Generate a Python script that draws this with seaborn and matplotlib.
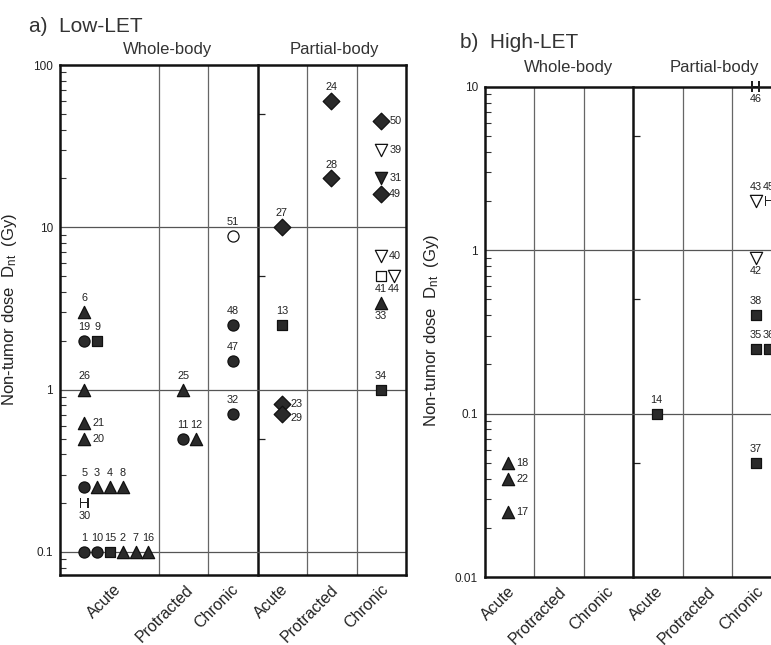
import pandas as pd
import matplotlib.pyplot as plt
import seaborn as sns
from matplotlib.ticker import LogLocator, NullFormatter
from matplotlib.transforms import blended_transform_factory

sns.set_theme(style='white')
plt.rcParams['font.family'] = ['Liberation Sans', 'DejaVu Sans']
plt.rcParams['mathtext.fontset'] = 'custom'
plt.rcParams['mathtext.rm'] = 'Liberation Sans'
plt.rcParams['mathtext.it'] = 'Liberation Sans:italic'

regimes = ['Acute', 'Protracted', 'Chronic', 'Acute', 'Protracted', 'Chronic']

# a) low-LET : study id, regime column (0-2 whole body, 3-5 partial body), slot, dose (Gy), symbol, label side
a_id = [1, 10, 15, 2, 7, 16, 30, 5, 3, 4, 8, 20, 21, 26, 19, 9, 6,
        25, 11, 12,
        51, 48, 47, 32,
        27, 13, 23, 29,
        24, 28,
        50, 39, 31, 49, 40, 41, 44, 33, 34]
a_col = [0] * 17 + [1] * 3 + [2] * 4 + [3] * 4 + [4] * 2 + [5] * 9
a_slot = [0, 1, 2, 3, 4, 5, 0, 0, 1, 2, 3, 0, 0, 0, 0, 1, 0,
          0, 0, 1,
          0, 0, 0, 0,
          0, 0, 0, 0,
          0, 0,
          0, 0, 0, 0, 0, 0, 1, 0, 0]
a_dose = [0.1, 0.1, 0.1, 0.1, 0.1, 0.1, 0.2, 0.25, 0.25, 0.25, 0.25, 0.5, 0.62, 1.0, 2.0, 2.0, 3.0,
          1.0, 0.5, 0.5,
          8.8, 2.5, 1.5, 0.71,
          10, 2.5, 0.81, 0.71,
          60, 20,
          45, 30, 20, 16, 6.7, 5, 5, 3.4, 1.0]
a_shape = ['o', 'o', 's', '^', '^', '^', 'H', 'o', '^', '^', '^', '^', '^', '^', 'o', 's', '^',
           '^', 'o', '^',
           'o_open', 'o', 'o', 'o',
           'D', 's', 'D', 'D',
           'D', 'D',
           'D', 'v_open', 'v', 'D', 'v_open', 's_open', 'v_open', '^', 's']
a_lab = (['t'] * 6 + ['b'] + ['t'] * 4 + ['r', 'r'] + ['t'] * 4
         + ['t'] * 3 + ['t'] * 4 + ['t', 't', 'r', 'r2'] + ['t', 't']
         + ['r'] * 5 + ['b', 'b', 'b', 't'])

# b) high-LET
b_id = [18, 22, 17, 14, 37, 35, 36, 38, 42, 43, 45, 46]
b_col = [0, 0, 0, 3, 5, 5, 5, 5, 5, 5, 5, 5]
b_slot = [0, 0, 0, 0, 0, 0, 1, 0, 0, 0, 1, 0]
b_dose = [0.05, 0.04, 0.025, 0.1, 0.05, 0.25, 0.25, 0.4, 0.89, 2.0, 2.0, 10]
b_shape = ['^', '^', '^', 's', 's', 's', 's', 's', 'v_open', 'v_open', 'H', 'H']
b_lab = ['r', 'r', 'r', 't', 't', 't', 't', 't', 'b', 't', 't', 'b']

ink = '#2a2a2a'
edge = '#111111'
styles = {
    'o': ('o', 64, ink, edge),
    's': ('s', 54, ink, edge),
    '^': ('^', 78, ink, edge),
    'v': ('v', 78, ink, edge),
    'D': ('D', 72, ink, edge),
    'o_open': ('o', 64, 'white', edge),
    's_open': ('s', 54, 'white', edge),
    'v_open': ('v', 78, 'white', edge),
    'H': (r'$\mathrm{H}$', 60, '#222222', 'none'),
}
offsets = {'t': ((0, 10), 'center', 'center'),
           'b': ((0, -9), 'center', 'center'),
           'r': ((6, 0), 'left', 'center'),
           'r2': ((6, -3), 'left', 'center')}


def draw_panel(ax, ids, cols, slots, doses, shapes, labs, edges, x0, dx,
               ylim, majors, major_labels, mid_ticks, tick_x, head_x, head_y):
    df = pd.DataFrame({'id': ids, 'col': cols, 'slot': slots, 'dose': doses,
                       'shape': shapes, 'lab': labs})
    df['x'] = [edges[c] + x0 + dx * s for c, s in zip(df['col'], df['slot'])]

    ax.set_yscale('log')
    ax.set_xlim(edges[0], edges[-1])
    ax.set_ylim(*ylim)

    for v in majors:
        if ylim[0] < v < ylim[1]:
            ax.axhline(v, color='#555555', lw=0.9, zorder=1)
    for i, e in enumerate(edges[1:-1]):
        if i != 2:
            ax.axvline(e, color='#666666', lw=0.9, zorder=1)

    for shape, grp in df.groupby('shape'):
        m, s, fc, ec = styles[shape]
        sns.scatterplot(data=grp, x='x', y='dose', ax=ax, marker=m, s=s,
                        color=fc, edgecolor=ec, linewidth=0.9 if ec != 'none' else 0,
                        legend=False, zorder=3, clip_on=False)

    for _, r in df.iterrows():
        off, ha, va = offsets[r['lab']]
        ax.annotate(str(r['id']), (r['x'], r['dose']), xytext=off,
                    textcoords='offset points', fontsize=7.8, color='#222222',
                    ha=ha, va=va, annotation_clip=False)

    ax.set_yticks(majors, major_labels)
    ax.yaxis.set_minor_locator(LogLocator(subs=range(2, 10)))
    ax.yaxis.set_minor_formatter(NullFormatter())
    ax.tick_params(axis='y', which='major', direction='in', length=0,
                   labelsize=8.5, labelcolor='#222222', pad=5)
    ax.tick_params(axis='y', which='minor', direction='in', length=4,
                   width=0.8, color='#333333', left=True)

    ax.set_xticks(tick_x, regimes, rotation=45, ha='right')
    ax.tick_params(axis='x', length=0, pad=5, labelsize=11.5, labelcolor='#222222')
    ax.set_xlabel('')

    for sp in ax.spines.values():
        sp.set_color('#111111')
        sp.set_linewidth(1.8)

    mid = (edges[3] - edges[0]) / (edges[-1] - edges[0])
    sec = ax.secondary_yaxis(mid)
    sec.set_yticks(mid_ticks)
    sec.set_yticklabels([])
    sec.tick_params(which='major', direction='out', length=5, width=0.9, color='#222222')
    sec.tick_params(which='minor', length=0)
    for sp in sec.spines.values():
        sp.set_color('#111111')
        sp.set_linewidth(1.8)

    tr = blended_transform_factory(ax.transData, ax.transAxes)
    ax.text(head_x[0], head_y, 'Whole-body', transform=tr, ha='center', va='center',
            fontsize=12, color='#333333')
    ax.text(head_x[1], head_y, 'Partial-body', transform=tr, ha='center', va='center',
            fontsize=12, color='#333333')


fig = plt.figure(figsize=(7.71, 6.45), dpi=100)
ax_a = fig.add_axes([0.0778, 0.1085, 0.4488, 0.7907])
ax_b = fig.add_axes([0.629, 0.1054, 0.385, 0.760])

draw_panel(ax_a, a_id, a_col, a_slot, a_dose, a_shape, a_lab,
           edges=[0, 2, 3, 4, 5, 6, 7], x0=0.49, dx=0.26,
           ylim=(0.0721, 100), majors=[0.1, 1, 10, 100],
           major_labels=['0.1', '1', '10', '100'], mid_ticks=[0.5, 5, 50],
           tick_x=[1.3, 2.75, 3.66, 4.68, 5.69, 6.7],
           head_x=[2.17, 5.55], head_y=1.031)
draw_panel(ax_b, b_id, b_col, b_slot, b_dose, b_shape, b_lab,
           edges=[0, 1, 2, 3, 4, 5, 6], x0=0.47, dx=0.27,
           ylim=(0.01, 10), majors=[0.01, 0.1, 1, 10],
           major_labels=['0.01', '0.1', '1', '10'], mid_ticks=[0.05, 0.5, 5],
           tick_x=[0.67, 1.7, 2.65, 3.66, 4.71, 5.68],
           head_x=[1.68, 4.63], head_y=1.039)

ylab = r'Non-tumor dose  $\mathrm{D_{nt}}$  (Gy)'
ax_a.set_ylabel(ylab, fontsize=12, color='#222222')
ax_a.yaxis.set_label_coords(-0.118, 0.52)
ax_b.set_ylabel(ylab, fontsize=12, color='#222222')
ax_b.yaxis.set_label_coords(-0.148, 0.504)

fig.text(29 / 771, 1 - 32 / 645, 'a)  Low-LET', fontsize=15, color='#333333', va='baseline')
fig.text(460 / 771, 1 - 48 / 645, 'b)  High-LET', fontsize=15, color='#333333', va='baseline')

fig.savefig('out.png', dpi=100, facecolor='white')
